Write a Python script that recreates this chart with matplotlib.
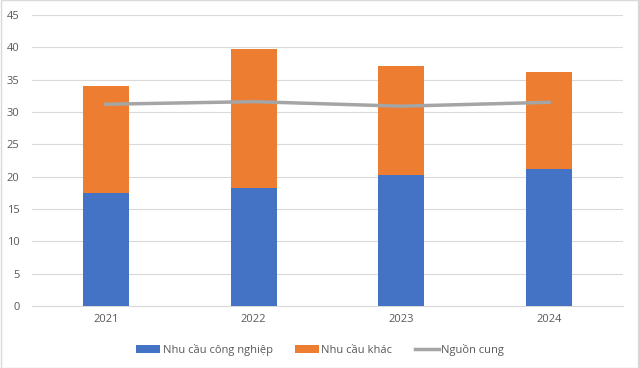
import matplotlib
matplotlib.use("Agg")
import matplotlib.pyplot as plt
import numpy as np

years = ["2021", "2022", "2023", "2024"]
industrial = [17.4, 18.3, 20.3, 21.2]
other = [16.6, 21.5, 16.8, 15.0]
supply = [31.2, 31.6, 30.9, 31.5]

plt.rcParams['font.family'] = ['Open Sans', 'DejaVu Sans']

fig = plt.figure(figsize=(6.39, 3.68), dpi=100)
ax = fig.add_axes([32/639, 1-306/368, 591/639, 291/368])

x = np.arange(len(years))
w = 0.31
ax.bar(x, industrial, w, color="#4472C4", label="Nhu cầu công nghiệp", zorder=3)
ax.bar(x, other, w, bottom=industrial, color="#ED7D31", label="Nhu cầu khác", zorder=3)
ax.plot(x, supply, color="#A5A5A5", lw=2.5, label="Nguồn cung", zorder=4)

ax.set_xlim(-0.5, len(years) - 0.5)
ax.set_ylim(0, 45)
ax.set_yticks(range(0, 46, 5))
ax.set_xticks(x)
ax.set_xticklabels(years)
ax.grid(axis="y", color="#D9D9D9", lw=0.8, zorder=0)
for s in ["top", "right", "left"]:
    ax.spines[s].set_visible(False)
ax.spines["bottom"].set_color("#D9D9D9")
ax.tick_params(axis="both", length=0, labelsize=8, colors="#595959", pad=6)
ax.tick_params(axis="y", pad=9)

handles, labels = ax.get_legend_handles_labels()
order = [1, 2, 0]
leg = fig.legend([handles[i] for i in order], [labels[i] for i in order],
                 loc="center", bbox_to_anchor=(320/639, 1-350/368), ncol=3,
                 frameon=False, fontsize=8, handlelength=2.2, handletextpad=0.2,
                 columnspacing=2.0, labelcolor="#595959")

fig.patches.append(plt.Rectangle((0.001, 0.001), 0.998, 0.998, transform=fig.transFigure,
                                 fill=False, edgecolor="#D9D9D9", lw=1))
fig.savefig("out.png", dpi=100)
